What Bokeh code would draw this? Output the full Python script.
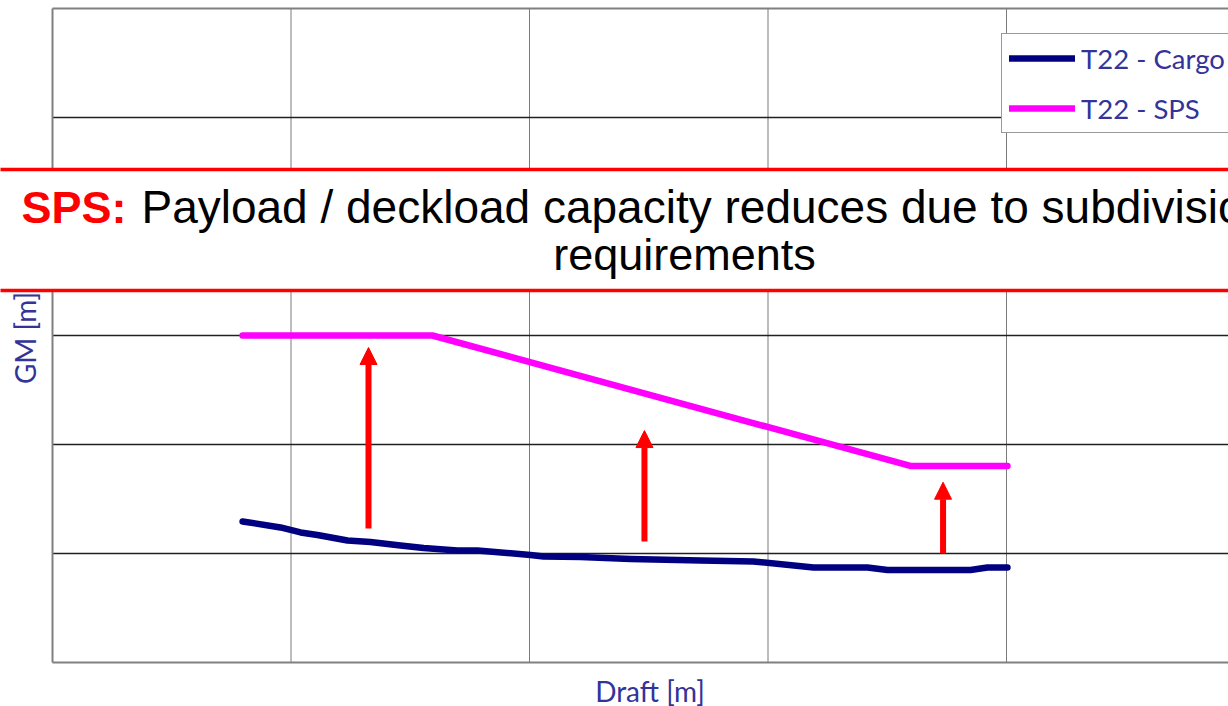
import math
from bokeh.plotting import figure
from bokeh.models import (Range1d, BoxAnnotation, Label, Arrow, NormalHead,
                          ColumnDataSource, Legend)
from bokeh.embed import file_html
from bokeh.resources import INLINE

# ---- data ----
cargo_draft = [1.797, 1.956, 2.040, 2.111, 2.237, 2.333, 2.459, 2.556, 2.698, 2.782,
               3.004, 3.059, 3.214, 3.423, 3.717, 3.939, 4.191, 4.417, 4.501, 4.849,
               4.920, 5.004]
cargo_gm = [1.294, 1.239, 1.193, 1.170, 1.119, 1.106, 1.073, 1.050, 1.028, 1.028,
            0.986, 0.972, 0.968, 0.950, 0.936, 0.927, 0.872, 0.872, 0.849, 0.849,
            0.872, 0.872]
sps_draft = [1.797, 2.593, 4.597, 5.004]
sps_gm = [3.0, 3.0, 1.803, 1.803]
arrow_draft = [2.325, 3.482, 4.734]
arrow_from = [1.229, 1.110, 1.000]
arrow_to = [2.890, 2.128, 1.654]
x_ticks = [2, 3, 4, 5]
y_ticks = [1, 2, 3, 4, 5]
x_lim = [1, 6]
y_lim = [0, 6]
series_names = ["T22 - Cargo", "T22 - SPS"]
x_title = "Draft [m]"
y_title = "GM [m]"
banner_head = "SPS:"
banner_line1 = "Payload / deckload capacity reduces due to subdivision"
banner_line2 = "requirements"

LABEL_COLOR = "#333399"
FONT = "Lato"
PX_X = 238.5   # pixels per draft unit
PX_Y = 109.0   # pixels per GM unit

# the frame fills the whole canvas; the "plot box" (1..6 x 0..6) is drawn inside it
p = figure(width=1228, height=706,
           x_range=Range1d(1 - 52 / PX_X, 1 + 1176 / PX_X),
           y_range=Range1d(-44 / PX_Y, 662 / PX_Y),
           output_backend="svg", toolbar_location=None,
           min_border=0)
p.outline_line_color = None
p.background_fill_color = "white"
p.xaxis.visible = False
p.yaxis.visible = False
p.xgrid.visible = False
p.ygrid.visible = False

# grid lines of the plot box
p.segment(x0=x_ticks, y0=[y_lim[0]] * len(x_ticks), x1=x_ticks, y1=[y_lim[1]] * len(x_ticks),
          line_color="#7a7a7a", line_width=1)
p.segment(x0=[x_lim[0]] * len(y_ticks), y0=y_ticks, x1=[x_lim[1]] * len(y_ticks), y1=y_ticks,
          line_color="#202020", line_width=1.5)
# box border (left, bottom, top)
p.segment(x0=[x_lim[0], x_lim[0], x_lim[0]], y0=[y_lim[0], y_lim[0], y_lim[1]],
          x1=[x_lim[0], x_lim[1], x_lim[1]], y1=[y_lim[1], y_lim[0], y_lim[1]],
          line_color="#808080", line_width=2)

r1 = p.line(cargo_draft, cargo_gm, line_color="#000080", line_width=6.5,
            line_cap="round", line_join="round")
r2 = p.line(sps_draft, sps_gm, line_color="#FF00FF", line_width=6.5,
            line_cap="round", line_join="round")

arrow_src = ColumnDataSource(dict(x0=arrow_draft, y0=arrow_from, x1=arrow_draft, y1=arrow_to))
p.add_layout(Arrow(end=NormalHead(size=17, fill_color="#FF0000", line_color="#FF0000", line_width=1),
                   x_start="x0", y_start="y0", x_end="x1", y_end="y1", source=arrow_src,
                   line_color="#FF0000", line_width=6))

legend = Legend(items=[(series_names[0], [r1]), (series_names[1], [r2])],
                location=(1001, 573), orientation="vertical",
                padding=7, spacing=16, margin=0,
                glyph_width=66, glyph_height=34, label_standoff=6,
                label_text_font=FONT, label_text_font_size="27.5px",
                label_text_color=LABEL_COLOR, label_height=34,
                border_line_color="#333333", border_line_width=1,
                background_fill_color="white", background_fill_alpha=1)
p.add_layout(legend)

# axis titles
p.add_layout(Label(x=3.505, y=-0.358 + 11 / PX_Y, text=x_title, text_font=FONT,
                   text_font_size="28px", text_color=LABEL_COLOR,
                   text_align="center", text_baseline="alphabetic"))
p.add_layout(Label(x=0.935 - 12 / PX_X, y=2.977, text=y_title, text_font=FONT,
                   text_font_size="28px", text_color=LABEL_COLOR,
                   text_align="center", text_baseline="alphabetic", angle=math.pi / 2))

# banner
p.add_layout(BoxAnnotation(left=0.7, right=7.0, bottom=3.413, top=4.523,
                           fill_color="white", fill_alpha=1.0,
                           line_color="#FF0000", line_alpha=1.0, line_width=3.5))
p.add_layout(Label(x=0.870, y=4.0395 + 15 / PX_Y, text=banner_head, text_font="Liberation Sans",
                   text_font_size="45px", text_font_style="bold", text_color="#FF0000",
                   text_align="left", text_baseline="alphabetic"))
p.add_layout(Label(x=1.373, y=4.0395 + 15 / PX_Y, text=banner_line1, text_font="Liberation Sans",
                   text_font_size="46px", text_color="black",
                   text_align="left", text_baseline="alphabetic"))
p.add_layout(Label(x=3.650, y=3.606 + 15 / PX_Y, text=banner_line2, text_font="Liberation Sans",
                   text_font_size="45px", text_color="black",
                   text_align="center", text_baseline="alphabetic"))

open("out.html", "w").write(file_html(p, INLINE))
